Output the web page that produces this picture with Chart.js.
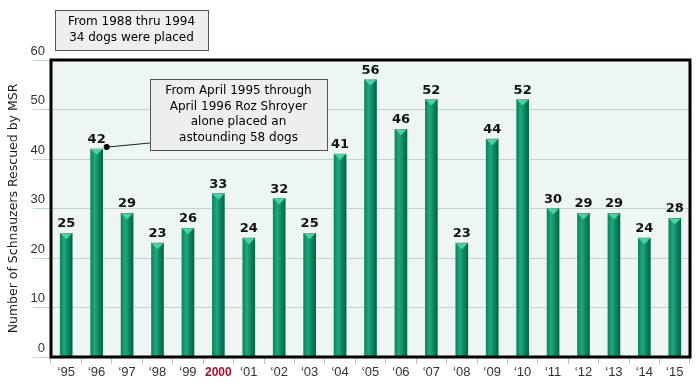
<!DOCTYPE html>
<html>
<head>
<meta charset="utf-8">
<script src="https://cdn.jsdelivr.net/npm/chart.js@4/dist/chart.umd.min.js"></script>
<style>
  html, body { margin: 0; padding: 0; background: #fff; }
  #wrap { width: 700px; height: 391px; }
</style>
</head>
<body>
<div id="wrap"><canvas id="c" width="700" height="391"></canvas></div>
<script>
const years = ['‘95', '‘96', '‘97', '‘98', '‘99', '2000', '‘01', '‘02', '‘03', '‘04', '‘05',
               '‘06', '‘07', '‘08', '‘09', '‘10', '‘11', '‘12', '‘13', '‘14', '‘15'];
const rescued = [25, 42, 29, 23, 26, 33, 24, 32, 25, 41, 56, 46, 52, 23, 44, 52, 30, 29, 29, 24, 28];
const yMin = 0;
const yMax = 60;
const yStep = 10;
const yTitle = 'Number of Schnauzers Rescued by MSR';
const noteEarly = ['From 1988 thru 1994', '34 dogs were placed'];
const noteRoz = ['From April 1995 through', 'April 1996 Roz Shroyer', 'alone placed an', 'astounding 58 dogs'];
const noteRozYear = 1; // index of '96 bar the leader line points to

function barFill(context) {
  const chart = context.chart;
  const ctx = chart.ctx;
  const xScale = chart.scales.x;
  if (!xScale || context.dataIndex === undefined) return '#0b8a62';
  const cx = xScale.getPixelForValue(context.dataIndex);
  if (!Number.isFinite(cx)) return '#0b8a62';
  const half = 6;
  const g = ctx.createLinearGradient(cx - half, 0, cx + half, 0);
  g.addColorStop(0, '#0a8560');
  g.addColorStop(0.35, '#22a67f');
  g.addColorStop(0.7, '#08845d');
  g.addColorStop(1, '#006546');
  return g;
}

function drawNote(ctx, lines, x, y, w, h, lineGap) {
  ctx.save();
  ctx.fillStyle = '#eeeeee';
  ctx.fillRect(x, y, w, h);
  ctx.strokeStyle = '#555';
  ctx.lineWidth = 1;
  ctx.strokeRect(x + 0.5, y + 0.5, w, h);
  ctx.fillStyle = '#000';
  ctx.font = '12px "DejaVu Sans"';
  ctx.textAlign = 'center';
  ctx.textBaseline = 'middle';
  const startY = y + h / 2 - (lines.length - 1) * lineGap / 2;
  lines.forEach((t, i) => ctx.fillText(t, x + w / 2, startY + i * lineGap));
  ctx.restore();
}

const decor = {
  id: 'decor',
  beforeDraw(chart) {
    const { ctx, chartArea: a } = chart;
    ctx.save();
    ctx.fillStyle = '#edf6f1';
    ctx.fillRect(a.left, a.top, a.right - a.left, a.bottom - a.top);
    ctx.restore();
  },
  afterDatasetsDraw(chart) {
    const ctx = chart.ctx;
    const meta = chart.getDatasetMeta(0);
    ctx.save();
    meta.data.forEach((bar, i) => {
      const half = bar.width / 2;
      // light cap on top of each bar
      ctx.fillStyle = '#45d3a8';
      ctx.beginPath();
      ctx.moveTo(bar.x - half, bar.y);
      ctx.lineTo(bar.x + half, bar.y);
      ctx.lineTo(bar.x, bar.y + 6);
      ctx.closePath();
      ctx.fill();
      // value label
      ctx.fillStyle = '#111';
      ctx.font = 'bold 13px "DejaVu Sans"';
      ctx.textAlign = 'center';
      ctx.textBaseline = 'alphabetic';
      ctx.fillText(String(rescued[i]), bar.x, bar.y - 6);
    });
    ctx.restore();
  },
  afterDraw(chart) {
    const { ctx, chartArea: a } = chart;
    ctx.save();
    ctx.strokeStyle = '#000';
    ctx.lineWidth = 3;
    ctx.strokeRect(a.left, a.top, a.right - a.left, a.bottom - a.top);

    // y axis title
    ctx.translate(14, (a.top + a.bottom) / 2);
    ctx.rotate(-Math.PI / 2);
    ctx.fillStyle = '#1a1a1a';
    ctx.font = '12.5px "DejaVu Sans"';
    ctx.textAlign = 'center';
    ctx.textBaseline = 'middle';
    ctx.fillText(yTitle, 0, 0);
    ctx.restore();

    drawNote(ctx, noteEarly, 55, 10, 153, 40, 16);

    // leader line from '96 bar to the note
    const bar = chart.getDatasetMeta(0).data[noteRozYear];
    const dx = bar.x + bar.width / 2 + 4;
    const dy = bar.y - 2;
    ctx.save();
    ctx.strokeStyle = '#222';
    ctx.lineWidth = 1;
    ctx.beginPath();
    ctx.moveTo(dx, dy);
    ctx.lineTo(150, 143);
    ctx.stroke();
    ctx.fillStyle = '#000';
    ctx.beginPath();
    ctx.arc(dx, dy, 3, 0, Math.PI * 2);
    ctx.fill();
    ctx.restore();

    drawNote(ctx, noteRoz, 150, 79, 177, 71, 15.5);
  }
};

new Chart(document.getElementById('c'), {
  type: 'bar',
  data: {
    labels: years,
    datasets: [{
      data: rescued,
      backgroundColor: barFill,
      borderWidth: 0,
      barThickness: 12
    }]
  },
  options: {
    responsive: false,
    animation: false,
    layout: { padding: { top: 60, right: 10, bottom: 0, left: 0 } },
    plugins: { legend: { display: false }, tooltip: { enabled: false } },
    scales: {
      x: {
        offset: true,
        afterFit(scale) { scale.height = 34; },
        grid: { offset: true, drawOnChartArea: false, tickLength: 7, color: '#bbbbbb' },
        border: { display: false },
        ticks: {
          padding: 1,
          maxRotation: 0,
          autoSkip: false,
          color: (c) => years[c.index] === '2000' ? '#a3102e' : '#333',
          font: (c) => years[c.index] === '2000'
            ? { family: '"Liberation Sans"', size: 12, weight: 'bold' }
            : { family: '"Liberation Sans"', size: 13 }
        }
      },
      y: {
        min: yMin,
        max: yMax,
        afterFit(scale) { scale.width = 51; },
        grid: { color: '#c6d3cc', tickLength: 18 },
        border: { display: false },
        ticks: {
          stepSize: yStep,
          padding: -12,
          labelOffset: -9,
          color: '#333',
          font: { family: '"Liberation Sans"', size: 13 }
        }
      }
    }
  },
  plugins: [decor]
});
</script>
</body>
</html>
